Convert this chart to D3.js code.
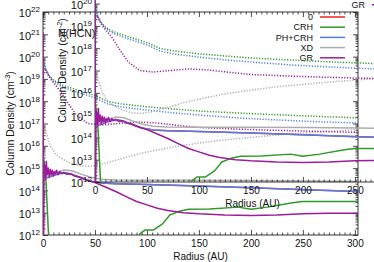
<!DOCTYPE html>
<html>
<head>
<meta charset="utf-8">
<script src="https://cdn.jsdelivr.net/npm/d3@7"></script>
<style>
  body { margin: 0; background: #fff; }
  svg { display: block; font-family: "Liberation Sans", Arial, Helvetica, sans-serif; }
</style>
</head>
<body>
<svg id="chart" width="374" height="262"></svg>
<script>
// legend
const seriesNames = ["0", "CRH", "PH+CRH", "XD", "GR"];
const seriesColors = ["#e8291c", "#2f992a", "#4f7fe6", "#adadad", "#9c1c9c"];

const xTicks = [0, 50, 100, 150, 200, 250, 300];
const yDecades = [12, 13, 14, 15, 16, 17, 18, 19, 20, 21, 22];

// [radius (AU), log10 column density]  -- solid lines
const solid0 = [[0,14.6],[5,14.58],[12,14.7],[20,14.8],[28,14.72],[36,14.58],[45,14.42],[56,14.33],[70,14.3],[91,14.28],[150,14.2],[200,14.12],[253,14.03],[303,13.95]];
const solidCRH = [[0,15.6],[1,15.3],[2,15.0],[3,14.3],[4,13.3],[5,12.3],[6,11.5],[91,11.5],[93,12.05],[98,12.22],[106,12.22],[115,12.5],[122,12.9],[130,13.05],[140,13.15],[160,13.17],[188,13.25],[200,13.15],[216,13.25],[240,13.45],[250,13.5],[303,13.5]];
const solidPH = [[0,14.6],[5,14.58],[12,14.7],[20,14.8],[28,14.72],[36,14.58],[45,14.42],[56,14.33],[70,14.3],[91,14.28],[150,14.2],[200,14.12],[253,14.03],[303,13.95]];
const solidXD = [[0,14.62],[5,14.62],[12,14.78],[20,14.92],[28,14.88],[36,14.74],[45,14.6],[56,14.5],[70,14.47],[100,14.46],[150,14.45],[200,14.44],[253,14.42],[303,14.4]];
const solidGR = [[0,21.1],[0.3,16],[0.6,11.5],[1,15.2],[1.5,14.6],[2,15.1],[2.6,14.5],[3.2,15.3],[4,14.7],[5,15.0],[6,14.6],[7,14.95],[8,14.7],[9,14.9],[10,14.65],[11,14.85],[12,14.75],[13,14.9],[14.5,14.7],[16,14.85],[18,14.75],[20,14.8],[23,14.72],[26,14.75],[30,14.65],[35,14.6],[40,14.5],[45,14.42],[50,14.35],[60,14.15],[70,13.95],[80,13.72],[90,13.5],[100,13.35],[110,13.2],[120,13.1],[135,13.0],[150,12.95],[175,12.9],[200,12.88],[225,12.9],[250,12.95],[275,12.97],[303,12.97]];

// dotted lines
const dotCRH = [[0,19.5],[1,19.62],[3,19.4],[6,19.15],[10,18.95],[15,18.8],[20,18.7],[30,18.55],[40,18.4],[50,18.25],[62,18.0],[75,17.88],[100,17.75],[125,17.65],[150,17.56],[188,17.47],[220,17.4],[253,17.34],[303,17.25]];
const dotPH = [[0,19.55],[1,19.68],[3,19.42],[6,19.12],[10,18.9],[15,18.73],[20,18.62],[30,18.45],[40,18.3],[50,18.15],[62,17.88],[75,17.75],[100,17.6],[125,17.48],[150,17.38],[188,17.25],[220,17.17],[253,17.1],[303,17.02]];
const dotXD = [[0,17.2],[3,16.6],[7,16.0],[12,15.65],[17,15.45],[25,15.25],[35,15.1],[45,15.08],[55,15.15],[70,15.35],[85,15.55],[100,15.72],[125,15.95],[150,16.12],[175,16.27],[200,16.38],[225,16.48],[250,16.57],[275,16.65],[303,16.72]];
const dotGR = [[0,11.5],[0.5,19.3],[2,19.4],[8,18.95],[16,18.5],[24,17.92],[32,17.38],[43,17.0],[56,16.93],[72,17.0],[91,17.07],[110,17.02],[127,16.93],[150,16.82],[187,16.75],[220,16.7],[253,16.66],[303,16.6]];

const solidSeries = [solid0, solidCRH, solidPH, solidXD, solidGR];
const dottedSeries = [dotCRH, dotPH, dotXD, dotGR];
const dottedColors = [seriesColors[1], seriesColors[2], seriesColors[3], seriesColors[4]];

const margin = { left: 43, top: 12, right: 16, bottom: 27 };
const W = 374, H = 262;
const pw = W - margin.left - margin.right;   // 315
const ph = H - margin.top - margin.bottom;   // 223

const x = d3.scaleLinear().domain([0, 303]).range([0, pw]);
const y = d3.scaleLog().domain([1e12, 1e22]).range([ph, 0]);

const line = d3.line()
    .x(d => x(d[0]))
    .y(d => y(Math.pow(10, d[1])));

const svg = d3.select("#chart");

// minor ticks
const xMinor = d3.range(0, 305, 5).filter(v => v % 50 !== 0);
const yMinor = [];
yDecades.slice(0, -1).forEach(e => { for (let k = 2; k <= 9; k++) yMinor.push(k * Math.pow(10, e)); });

function supLabel(sel) {
  sel.text(null);
  sel.append("tspan").text("10");
  sel.append("tspan").attr("dy", -5).attr("font-size", 8).text(d => Math.round(Math.log10(d)));
}

function drawPanel(ox, oy, id, titleExp, note) {
  const g = svg.append("g").attr("transform", `translate(${margin.left + ox},${margin.top + oy})`);

  g.append("clipPath").attr("id", id)
    .append("rect").attr("width", pw).attr("height", ph);

  // ticks, gnuplot style (inward, mirrored)
  const ax = (axis, tx, ty) => {
    const a = g.append("g").attr("transform", `translate(${tx},${ty})`).call(axis);
    a.select(".domain").remove();
    a.selectAll("line").attr("stroke", "#222").attr("stroke-width", 0.8);
    return a;
  };

  const bottom = ax(d3.axisBottom(x).tickValues(xTicks).tickSize(-5).tickPadding(5), 0, ph);
  bottom.selectAll("text").attr("font-size", 10).attr("fill", "#111").attr("font-family", null);
  ax(d3.axisBottom(x).tickValues(xMinor).tickSize(-2.5).tickFormat(""), 0, ph);
  ax(d3.axisTop(x).tickValues(xTicks).tickSize(-5).tickFormat(""), 0, 0);
  ax(d3.axisTop(x).tickValues(xMinor).tickSize(-2.5).tickFormat(""), 0, 0);

  const left = ax(d3.axisLeft(y).tickValues(yDecades.map(e => Math.pow(10, e))).tickSize(-5).tickPadding(3), 0, 0);
  left.selectAll("text").attr("font-size", 11).attr("fill", "#111").attr("font-family", null).attr("dy", "0.45em").call(supLabel);
  ax(d3.axisLeft(y).tickValues(yMinor).tickSize(-2.5).tickFormat(""), 0, 0);
  ax(d3.axisRight(y).tickValues(yDecades.map(e => Math.pow(10, e))).tickSize(-5).tickFormat(""), pw, 0);
  ax(d3.axisRight(y).tickValues(yMinor).tickSize(-2.5).tickFormat(""), pw, 0);

  g.append("rect").attr("width", pw).attr("height", ph)
    .attr("fill", "none").attr("stroke", "#222").attr("stroke-width", 0.9);

  // axis titles
  g.append("text").attr("x", pw / 2).attr("y", ph + 25).attr("text-anchor", "middle")
    .attr("font-size", 10).attr("fill", "#111").text("Radius (AU)");

  const yt = g.append("text")
    .attr("transform", `translate(${-29},${ph / 2}) rotate(-90)`)
    .attr("text-anchor", "middle").attr("font-size", 10.5).attr("fill", "#111");
  yt.append("tspan").text("Column Density (cm");
  yt.append("tspan").attr("dy", -4).attr("font-size", 7.5).text(titleExp);
  yt.append("tspan").attr("dy", 4).text(")");

  if (note) {
    g.append("text").attr("x", -37).attr("y", 78).attr("font-size", 10.5)
      .attr("fill", "#111").text(note);
  }

  const plot = g.append("g").attr("clip-path", `url(#${id})`);

  plot.selectAll(".dot").data(dottedSeries).enter().append("path")
    .attr("fill", "none")
    .attr("stroke", (d, i) => dottedColors[i])
    .attr("stroke-width", 1.5)
    .attr("stroke-dasharray", "1.2,1.6")
    .attr("d", line);

  plot.selectAll(".sol").data(solidSeries).enter().append("path")
    .attr("fill", "none")
    .attr("stroke", (d, i) => seriesColors[i])
    .attr("stroke-width", 1.5)
    .attr("stroke-linejoin", "round")
    .attr("d", line);

  // legend
  const leg = g.append("g").attr("transform", `translate(${270},${5})`);
  seriesNames.forEach((name, i) => {
    const r = leg.append("g").attr("transform", `translate(0,${i * 10.2})`);
    r.append("text").attr("x", 0).attr("y", 3.2).attr("text-anchor", "end")
      .attr("font-size", 9).attr("fill", "#111").text(name);
    r.append("line").attr("x1", 7).attr("x2", 32).attr("y1", 0).attr("y2", 0)
      .attr("stroke", seriesColors[i]).attr("stroke-width", 1.5);
  });
}

// main figure, then the shifted copy drawn over it
drawPanel(0, 0, "clipA", "-3", null);
drawPanel(52, -53, "clipB", "-2", "N(HCN)");
</script>
</body>
</html>
